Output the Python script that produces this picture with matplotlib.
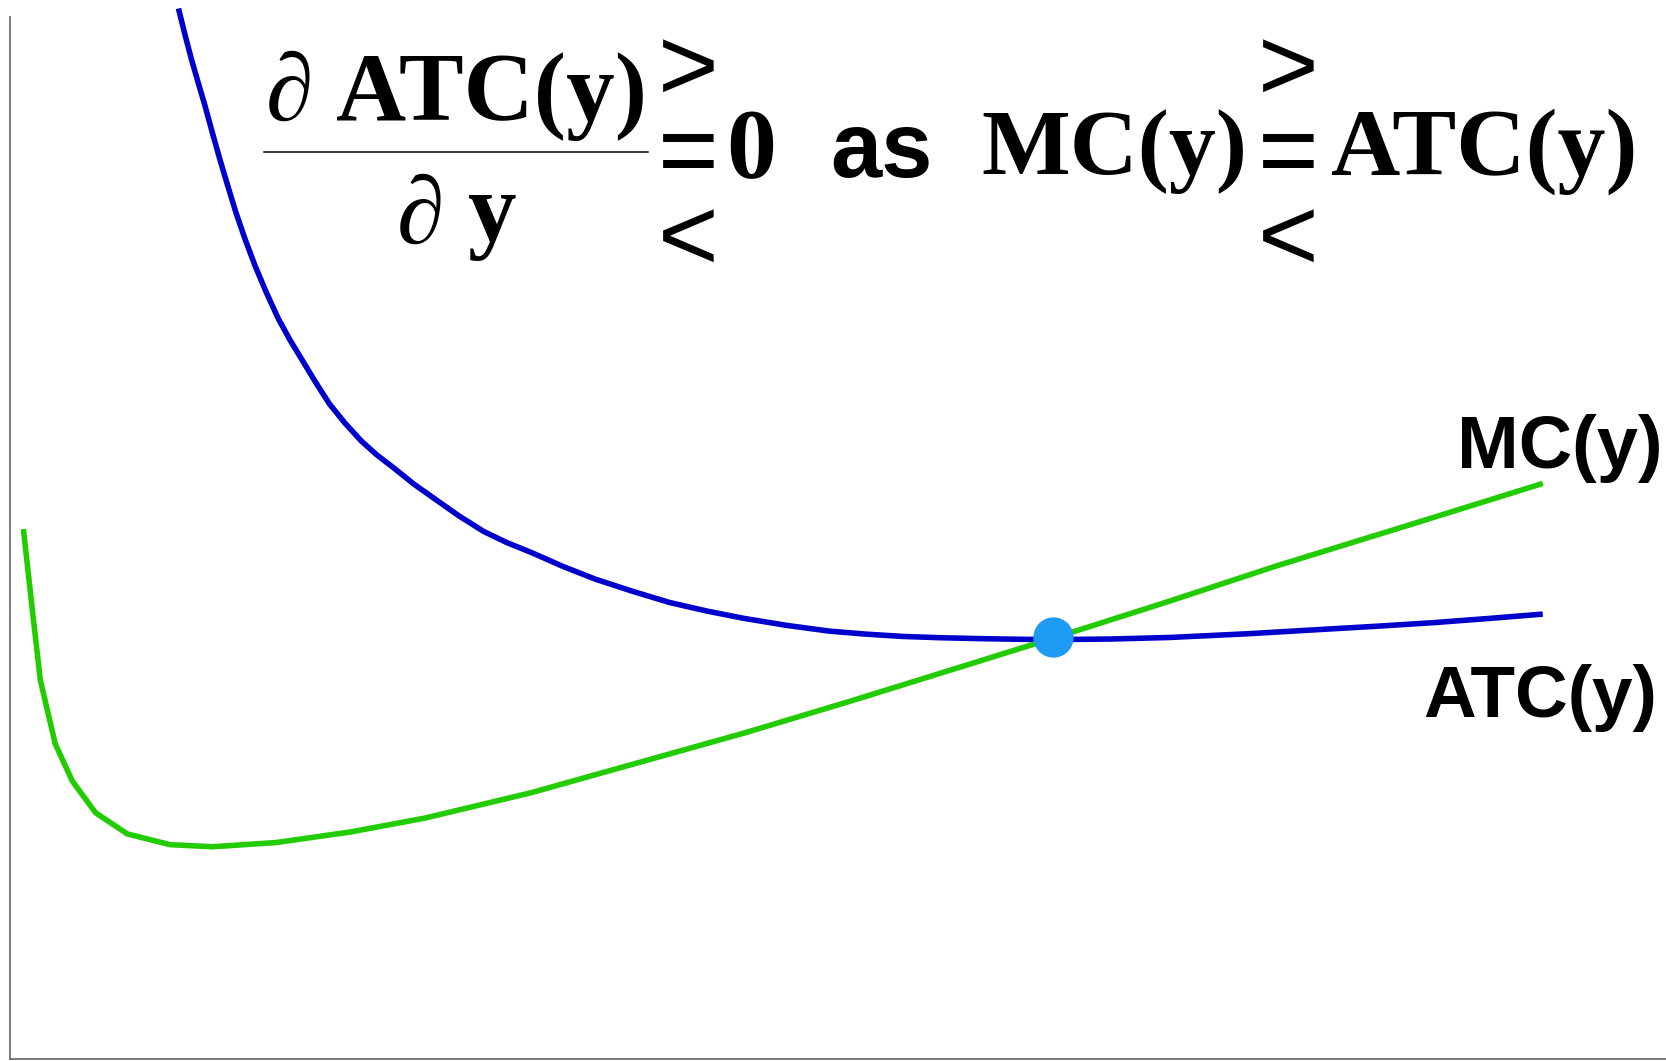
import numpy as np
import matplotlib.pyplot as plt
from matplotlib.lines import Line2D

# ATC(y): average total cost (blue)
atc_x = [1.020, 1.058, 1.097, 1.139, 1.181, 1.225, 1.270, 1.318, 1.367, 1.422,
         1.482, 1.550, 1.623, 1.695, 1.771, 1.850, 1.931, 2.025, 2.123, 2.216,
         2.316, 2.440, 2.572, 2.712, 2.861, 3.000, 3.150, 3.340, 3.535, 3.760,
         3.984, 4.210, 4.433, 4.690, 4.946, 5.170, 5.395, 5.620, 5.844, 6.070,
         6.293, 6.650, 6.998, 7.480, 7.960, 8.280, 8.602, 8.930, 9.256]
atc_y = [9.920, 9.680, 9.448, 9.220, 8.997, 8.745, 8.495, 8.243, 7.993, 7.742,
         7.492, 7.240, 6.990, 6.785, 6.589, 6.385, 6.187, 6.005, 5.837, 5.706,
         5.586, 5.430, 5.284, 5.130, 4.983, 4.878, 4.783, 4.652, 4.532, 4.417,
         4.311, 4.230, 4.161, 4.095, 4.041, 4.012, 3.990, 3.978, 3.970, 3.964,
         3.960, 3.966, 3.980, 4.016, 4.060, 4.089, 4.121, 4.160, 4.201]

# MC(y): marginal cost (green)
mc_x = [0.084, 0.135, 0.186, 0.276, 0.379, 0.520, 0.712, 0.969, 1.226, 1.610,
        2.059, 2.508, 3.150, 3.791, 4.433, 5.074, 5.715, 6.293, 6.998, 7.640,
        8.473, 9.256]
mc_y = [5.004, 4.281, 3.579, 2.977, 2.625, 2.325, 2.125, 2.024, 2.004, 2.044,
        2.144, 2.275, 2.515, 2.796, 3.077, 3.378, 3.689, 3.970, 4.321, 4.652,
        5.054, 5.435]

# minimum of ATC, where MC crosses it
min_x = 6.30
min_y = 3.985

W, H = 1666, 1061
fig = plt.figure(figsize=(W / 100, H / 100), dpi=100)


def px(x, y):
    # figure pixel (from top-left) -> figure fraction
    return x / W, 1 - y / H


ax = fig.add_axes([9.5 / W, 2 / H, (W - 9.5) / W, 1059 / H])
ax.set_xlim(0, 10)
ax.set_ylim(0, 10)
ax.patch.set_alpha(0)
for s in ['top', 'right']:
    ax.spines[s].set_visible(False)
for s in ['left', 'bottom']:
    ax.spines[s].set_color('#707070')
    ax.spines[s].set_linewidth(1.3)
ax.spines['left'].set_bounds(0, (1059 - 17) / 105.9)
ax.set_xticks([])
ax.set_yticks([])

ax.plot(atc_x, atc_y, color='#0000cc', lw=4.0, solid_capstyle='butt',
        solid_joinstyle='round', clip_on=False)
ax.plot(mc_x, mc_y, color='#22cc00', lw=4.0, solid_capstyle='butt',
        solid_joinstyle='round', clip_on=False)
ax.plot([min_x], [min_y], 'o', color='#1e9bf2', markersize=28, zorder=5)

serif = 'Liberation Serif'
sans = 'Liberation Sans'
pt = 0.72  # px -> pt at dpi 100

# fraction: d ATC(y) / d y
fig.text(*px(266, 120), '∂', family=serif, style='italic', weight='bold',
         fontsize=96 * pt, va='baseline')
fig.text(*px(336, 120), 'ATC(y)', family=serif, weight='bold',
         fontsize=97 * pt, va='baseline')
fig.add_artist(Line2D([264 / W, 648 / W], [1 - 152 / H, 1 - 152 / H],
                      color='black', lw=1.1))
fig.text(*px(397, 243), '∂', family=serif, style='italic', weight='bold',
         fontsize=96 * pt, va='baseline')
fig.text(*px(468, 240), 'y', family=serif, weight='bold',
         fontsize=97 * pt, va='baseline')

# stacked > = < signs (one text each, so the lines don't collide)
# va='baseline' on a multi-line text pins the last line (<)
for cx in [688, 1288]:
    fig.text(*px(cx, 270), '>\n=\n<', family=sans, fontsize=104 * pt,
             ha='center', va='baseline', multialignment='center',
             linespacing=0.84)

fig.text(*px(726, 177), '0', family=serif, weight='bold',
         fontsize=100 * pt, va='baseline')
fig.text(*px(830, 177), 'as', family=['Liberation Sans Narrow', sans],
         weight='bold', fontsize=92 * pt, va='baseline')
fig.text(*px(981, 174), 'MC(y)', family=serif, weight='bold',
         fontsize=94 * pt, va='baseline')
fig.text(*px(1330, 175), 'ATC(y)', family=serif, weight='bold',
         fontsize=96 * pt, va='baseline')

# curve labels
fig.text(*px(1663, 468), 'MC(y)', family=sans, weight='bold',
         fontsize=74 * pt, ha='right', va='baseline')
fig.text(*px(1657, 717), 'ATC(y)', family=sans, weight='bold',
         fontsize=73 * pt, ha='right', va='baseline')

fig.savefig('out.png', dpi=100, facecolor='white')
